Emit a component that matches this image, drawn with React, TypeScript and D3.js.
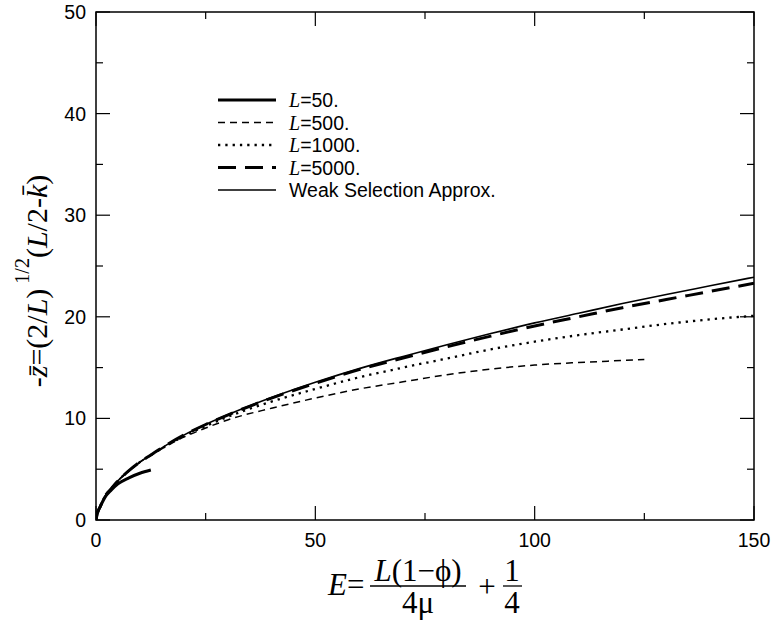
import React from "react";
import * as d3 from "d3";

// ---------- data ----------
const xTicksMajor = [0, 50, 100, 150];
const xTicksMinor = [25, 75, 125];
const yTicksMajor = [0, 10, 20, 30, 40, 50];
const yTicksMinor = [5, 15, 25, 35, 45];

const eL50 = [0, 0.25, 0.5, 1, 2, 3.5, 5, 7.5, 10, 12.5];
const zL50 = [0, 0.6, 0.9, 1.35, 2.2, 2.95, 3.55, 4.15, 4.6, 4.92];

const eWeak = [0, 0.25, 0.5, 1, 2, 3.5, 5, 7.5, 10, 12.5, 15, 20, 25, 30, 40, 50, 60, 70, 80, 90, 100, 110, 120, 130, 140, 150];
const zWeak = [0, 0.6, 0.9, 1.35, 2.3, 3.1, 3.85, 4.85, 5.7, 6.4, 7.1, 8.35, 9.4, 10.35, 12.05, 13.55, 14.9, 16.1, 17.25, 18.35, 19.4, 20.35, 21.3, 22.2, 23.05, 23.9];

const eL5000 = [0, 0.25, 0.5, 1, 2, 3.5, 5, 7.5, 10, 12.5, 15, 20, 25, 30, 40, 50, 60, 70, 80, 90, 100, 110, 120, 130, 140, 150];
const zL5000 = [0, 0.6, 0.9, 1.35, 2.3, 3.1, 3.85, 4.85, 5.7, 6.4, 7.1, 8.35, 9.4, 10.33, 12.0, 13.45, 14.8, 15.95, 17.05, 18.1, 19.1, 20.0, 20.9, 21.7, 22.5, 23.3];

const eL1000 = [0, 0.25, 0.5, 1, 2, 3.5, 5, 7.5, 10, 12.5, 15, 20, 25, 30, 40, 50, 60, 70, 80, 90, 100, 110, 120, 130, 140, 150];
const zL1000 = [0, 0.6, 0.9, 1.35, 2.3, 3.1, 3.85, 4.85, 5.7, 6.4, 7.05, 8.25, 9.25, 10.15, 11.65, 12.9, 14.05, 15.0, 15.9, 16.8, 17.55, 18.2, 18.75, 19.3, 19.75, 20.1];

const eL500 = [0, 0.25, 0.5, 1, 2, 3.5, 5, 7.5, 10, 12.5, 15, 20, 25, 30, 40, 50, 60, 70, 80, 90, 100, 110, 120, 125];
const zL500 = [0, 0.6, 0.9, 1.35, 2.3, 3.1, 3.85, 4.85, 5.7, 6.35, 7.0, 8.15, 9.05, 9.85, 11.0, 12.0, 12.9, 13.6, 14.3, 14.85, 15.25, 15.5, 15.7, 15.8];

const legendLabels = ["=50.", "=500.", "=1000.", "=5000.", "Weak Selection Approx."];

// ---------- layout ----------
const W = 772;
const H = 623;
const left = 96, right = 754, top = 12, bottom = 520;

const x = d3.scaleLinear().domain([0, 150]).range([left, right]);
const y = d3.scaleLinear().domain([0, 50]).range([bottom, top]);

type Style = { width: number; dash?: string };
const styles: Style[] = [
  { width: 3 },
  { width: 1.5, dash: "7,5" },
  { width: 2.3, dash: "2.3,5" },
  { width: 3, dash: "18,9" },
  { width: 1.6 },
];

const series = [
  { e: eL50, z: zL50 },
  { e: eL500, z: zL500 },
  { e: eL1000, z: zL1000 },
  { e: eL5000, z: zL5000 },
  { e: eWeak, z: zWeak },
];

const lineGen = d3
  .line<[number, number]>()
  .x((d) => x(d[0]))
  .y((d) => y(d[1]))
  .curve(d3.curveMonotoneX);

export default function App() {
  const sans = "'Liberation Sans', Arial, Helvetica, sans-serif";
  const serif = "'Liberation Serif', 'Times New Roman', serif";
  return (
    <svg width={W} height={H} style={{ position: "absolute", left: 0, top: 0, background: "#fff" }}>
      <rect x={0} y={0} width={W} height={H} fill="#fff" />
      <defs>
        <clipPath id="plotclip">
          <rect x={left} y={top} width={right - left} height={bottom - top} />
        </clipPath>
      </defs>

      {/* curves */}
      <g clipPath="url(#plotclip)">
        {series.map((s, i) => (
          <path
            key={i}
            d={lineGen(s.e.map((e, k) => [e, s.z[k]] as [number, number])) || ""}
            fill="none"
            stroke="#000"
            strokeWidth={styles[i].width}
            strokeDasharray={styles[i].dash}
          />
        ))}
      </g>

      {/* frame */}
      <rect x={left} y={top} width={right - left} height={bottom - top} fill="none" stroke="#000" strokeWidth={1.5} />

      {/* ticks */}
      <g stroke="#000" strokeWidth={1.2}>
        {xTicksMajor.map((t) => (
          <g key={"xM" + t}>
            <line x1={x(t)} x2={x(t)} y1={bottom} y2={bottom - 14} />
            <line x1={x(t)} x2={x(t)} y1={top} y2={top + 14} />
          </g>
        ))}
        {xTicksMinor.map((t) => (
          <g key={"xm" + t}>
            <line x1={x(t)} x2={x(t)} y1={bottom} y2={bottom - 7} />
            <line x1={x(t)} x2={x(t)} y1={top} y2={top + 7} />
          </g>
        ))}
        {yTicksMajor.map((t) => (
          <g key={"yM" + t}>
            <line x1={left} x2={left + 14} y1={y(t)} y2={y(t)} />
            <line x1={right} x2={right - 14} y1={y(t)} y2={y(t)} />
          </g>
        ))}
        {yTicksMinor.map((t) => (
          <g key={"ym" + t}>
            <line x1={left} x2={left + 7} y1={y(t)} y2={y(t)} />
            <line x1={right} x2={right - 7} y1={y(t)} y2={y(t)} />
          </g>
        ))}
      </g>

      {/* tick labels */}
      <g fontFamily={sans} fontSize={19.5} fill="#000">
        {xTicksMajor.map((t) => (
          <text key={"xl" + t} x={x(t)} y={547} textAnchor="middle">
            {t}
          </text>
        ))}
        {yTicksMajor.map((t) => (
          <text key={"yl" + t} x={86} y={y(t) + 7} textAnchor="end">
            {t}
          </text>
        ))}
      </g>

      {/* legend */}
      {legendLabels.map((lab, i) => {
        const cy = 100 + i * 22.5;
        return (
          <g key={"lg" + i}>
            <line
              x1={218}
              x2={276}
              y1={cy}
              y2={cy}
              stroke="#000"
              strokeWidth={styles[i].width}
              strokeDasharray={styles[i].dash}
            />
            <text x={289} y={cy + 7} fontSize={19.5} fontFamily={sans} fill="#000">
              {i < 4 ? (
                <>
                  <tspan fontFamily={serif} fontStyle="italic" fontSize={20}>
                    L
                  </tspan>
                  <tspan>{lab}</tspan>
                </>
              ) : (
                lab
              )}
            </text>
          </g>
        );
      })}

      {/* y-axis label */}
      <g transform="translate(47,281) rotate(-90)" fontFamily={serif} fontSize={30} fill="#000">
        <text x={0} y={0} textAnchor="middle">
          <tspan>-</tspan>
          <tspan fontStyle="italic">z&#x0304;</tspan>
          <tspan>=(2/</tspan>
          <tspan fontStyle="italic">L</tspan>
          <tspan>)</tspan>
          <tspan fontSize={20} dy={-18}>
            {" 1/2"}
          </tspan>
          <tspan dy={18}>(</tspan>
          <tspan fontStyle="italic">L</tspan>
          <tspan>/2-</tspan>
          <tspan fontStyle="italic">k&#x0304;</tspan>
          <tspan>)</tspan>
        </text>
      </g>

      {/* x-axis label */}
      <g fontFamily={serif} fill="#000" fontSize={31}>
        <text x={328} y={595}>
          <tspan fontStyle="italic">E</tspan>
          <tspan>=</tspan>
        </text>
        <text x={418} y={581} textAnchor="middle">
          <tspan fontStyle="italic">L</tspan>
          <tspan>(1−ϕ)</tspan>
        </text>
        <line x1={370} x2={466} y1={586} y2={586} stroke="#000" strokeWidth={1.3} />
        <text x={418} y={613} textAnchor="middle">
          4μ
        </text>
        <text x={487} y={597} textAnchor="middle">
          +
        </text>
        <text x={512} y={581} textAnchor="middle">
          1
        </text>
        <line x1={503} x2={522} y1={586} y2={586} stroke="#000" strokeWidth={1.3} />
        <text x={512} y={613} textAnchor="middle">
          4
        </text>
      </g>
    </svg>
  );
}
